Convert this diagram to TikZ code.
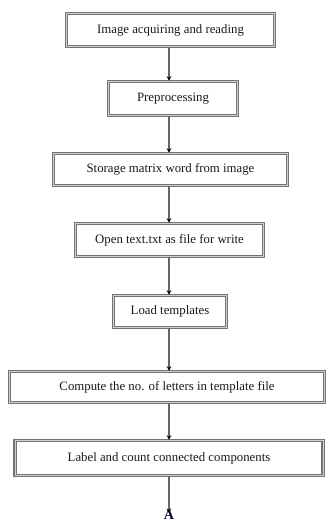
\documentclass[tikz,border=0pt]{standalone}
\usepackage{fontspec}
\setmainfont{Liberation Serif}
\usetikzlibrary{arrows.meta}
\begin{document}
\begin{tikzpicture}[x=1pt,y=-1pt,
  stepbox/.style={draw=black!55, double=black!18, line width=1.5pt, double distance=0.9pt,
    inner sep=0pt, fill=white, font=\fontsize{12.8pt}{15pt}\selectfont, text=black!90},
  arr/.style={draw=black!60, line width=1.6pt, -{Stealth[length=4.5pt,width=4.5pt,black]}}]
\useasboundingbox (0,0) rectangle (327,524);
\node[stepbox, minimum width=208pt, minimum height=33pt] (b1) at (170.5,30) {Image acquiring and reading};
\node[stepbox, minimum width=129pt, minimum height=34pt] (b2) at (173,98.5) {Preprocessing};
\node[stepbox, minimum width=234pt, minimum height=32pt] (b3) at (170.5,169.5) {Storage matrix word from image};
\node[stepbox, minimum width=188pt, minimum height=33pt] (b4) at (169.5,240) {Open text.txt as file for write};
\node[stepbox, minimum width=113pt, minimum height=32pt] (b5) at (170,311.5) {Load templates};
\node[stepbox, minimum width=315pt, minimum height=31pt] (b6) at (167,387) {Compute the no. of letters in template file};
\node[stepbox, minimum width=308pt, minimum height=35pt] (b7) at (169,458) {Label and count connected components};
\node[font=\fontsize{14pt}{16pt}\selectfont\bfseries, text=black!80!blue, inner sep=0pt, anchor=north] (A) at (169,510) {A};
\draw[arr] (b1.south -| A) -- (b2.north -| A);
\draw[arr] (b2.south -| A) -- (b3.north -| A);
\draw[arr] (b3.south -| A) -- (b4.north -| A);
\draw[arr] (b4.south -| A) -- (b5.north -| A);
\draw[arr] (b5.south -| A) -- (b6.north -| A);
\draw[arr] (b6.south -| A) -- (b7.north -| A);
\draw[arr] (b7.south -| A) -- ([yshift=-3pt]A.north);
\end{tikzpicture}
\end{document}
